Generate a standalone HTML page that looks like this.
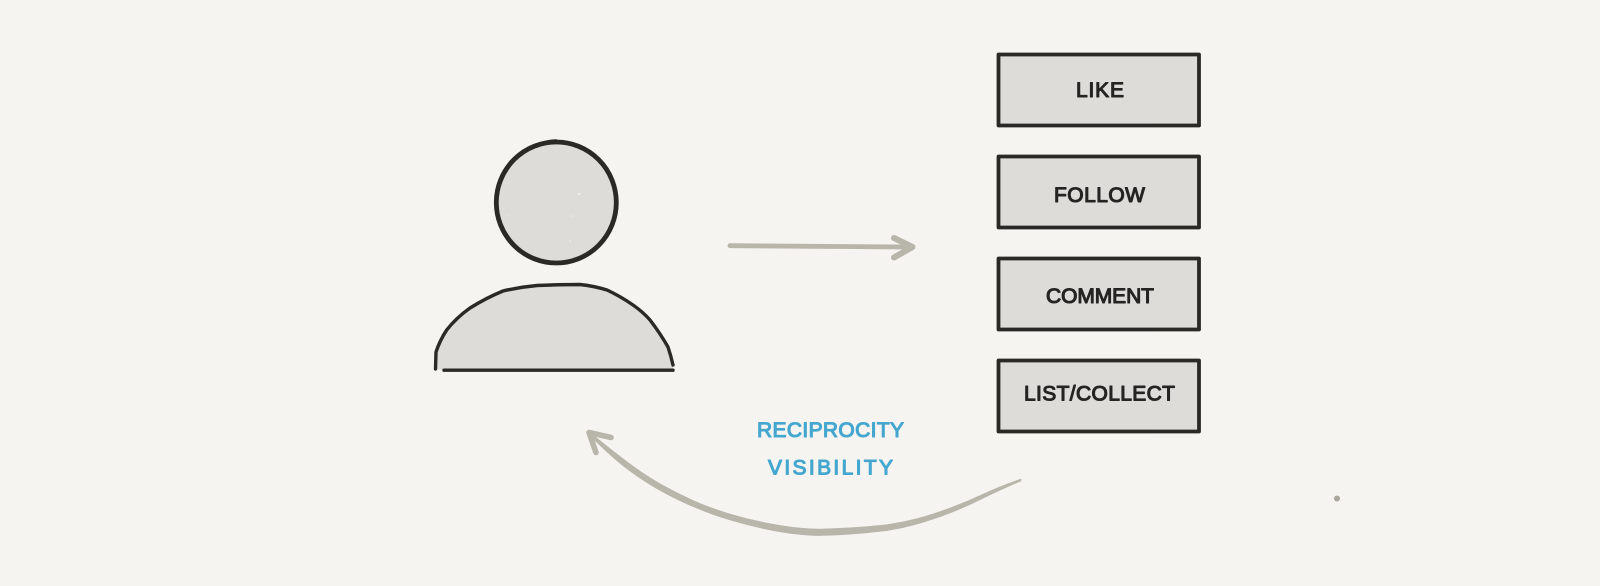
<!DOCTYPE html>
<html><head><meta charset="utf-8"><style>
html,body{margin:0;padding:0;background:#f5f4f0;width:1600px;height:586px;overflow:hidden}
svg{display:block}
.t{font-family:"Liberation Sans",sans-serif;font-weight:400;font-size:21px;fill:#252422;stroke:#252422;stroke-width:1.1;stroke-linejoin:round}
.b{fill:#45a7d0;stroke:#45a7d0}
.box{fill:#dddcd8;stroke:#2a2926;stroke-width:3.8;stroke-linejoin:round}
.u{stroke:#2a2926;stroke-width:1.5;fill:none}
</style></head><body>
<svg width="1600" height="586" viewBox="0 0 1600 586" xmlns="http://www.w3.org/2000/svg">
<rect width="1600" height="586" fill="#f5f4f0"/>
<!-- head -->
<ellipse cx="556.3" cy="202.5" rx="60" ry="60.5" fill="#dddcd8" stroke="#2a2926" stroke-width="4.8"/>
<path d="M539 145Q548 141 556 141" stroke="#2a2926" stroke-width="3.5" fill="none" stroke-linecap="round"/>
<g fill="#f0efeb"><circle cx="579" cy="194" r="1.2"/><circle cx="571" cy="216" r=".8"/><circle cx="570" cy="241" r=".8"/><circle cx="509" cy="216" r=".7"/></g>
<!-- body -->
<path d="M435.5 369L436 352Q440 340 446.7 330Q456 318 470 308Q486 298 503 291Q520 287 537 285.5Q558 284.5 580 284.5Q594 286 607 290Q620 296 633 305Q643 312 650 320Q660 333 668 347Q671 356 673 365L673 370L443 370Z" fill="#dddcd8"/>
<path d="M435.5 369L436 352Q440 340 446.7 330Q456 318 470 308Q486 298 503 291Q520 287 537 285.5Q558 284.5 580 284.5Q594 286 607 290Q620 296 633 305Q643 312 650 320Q660 333 668 347Q671 356 673 365" fill="none" stroke="#2a2926" stroke-width="3.4" stroke-linecap="round" stroke-linejoin="round"/>
<path d="M444 370.2L673 370.2" stroke="#2a2926" stroke-width="3.4" stroke-linecap="round"/>
<!-- boxes -->
<rect class="box" x="998.5" y="54.5" width="200.5" height="71"/>
<path class="u" d="M999 126H1153"/>
<rect class="box" x="998.5" y="156.5" width="200.5" height="71"/>
<path class="u" d="M999 228H1153"/>
<rect class="box" x="998.5" y="258.5" width="200.5" height="71"/>
<path class="u" d="M999 330H1153"/>
<rect class="box" x="998.5" y="360.5" width="200.5" height="71"/>
<path class="u" d="M999 432H1153"/>
<text class="t" x="1076" y="97.2" textLength="48" lengthAdjust="spacing">LIKE</text>
<text class="t" x="1054" y="202.2" textLength="91" lengthAdjust="spacing">FOLLOW</text>
<text class="t" x="1046" y="303.2" textLength="108" lengthAdjust="spacing">COMMENT</text>
<text class="t" x="1024" y="400.7" textLength="151" lengthAdjust="spacing">LIST/COLLECT</text>
<text class="t b" x="757" y="437.2" textLength="147" lengthAdjust="spacing">RECIPROCITY</text>
<text class="t b" x="768" y="474.7" textLength="125" lengthAdjust="spacing">VISIBILITY</text>
<!-- straight arrow -->
<path d="M730 245.7L910 247" fill="none" stroke="#b8b5ab" stroke-width="4.8" stroke-linecap="round"/>
<path d="M894 238L912.5 247L894 257.5" fill="none" stroke="#b8b5ab" stroke-width="6" stroke-linecap="round" stroke-linejoin="round"/>
<!-- curved arrow -->
<path d="M1021 479Q1000 486.2 983.5 494Q967 501.7 950 508Q933 514.4 916.5 518.8Q900 523.1 883.5 525Q867 526.8 850 527.8Q833 528.7 821.5 529Q810 529.2 795 527.5Q780 525.8 763.5 522.4Q747 519 730 514Q713 509 696.5 502Q680 494.8 663.5 485.7Q647 476.6 630 464Q613 451.4 590 432.5L590 435.5Q613 458.6 630 471Q647 483.4 663.5 492.3Q680 501.2 696.5 508Q713 515 730 520Q747 525 763.5 528.6Q780 532.2 795 534Q810 535.8 821.5 535.5Q833 535.3 850 534.2Q867 533.2 883.5 531Q900 528.9 916.5 524.2Q933 519.6 950 513Q967 506.3 983.5 498Q1000 489.8 1021 481Z" fill="#b8b5ab" stroke="#b8b5ab" stroke-width=".6" stroke-linejoin="round"/>
<path d="M611 437.5L589 432.5L596 452.5" fill="none" stroke="#b8b5ab" stroke-width="5.6" stroke-linecap="round" stroke-linejoin="round"/>
<circle cx="1337" cy="498.5" r="3" fill="#a9a69c"/>
</svg>
</body></html>
